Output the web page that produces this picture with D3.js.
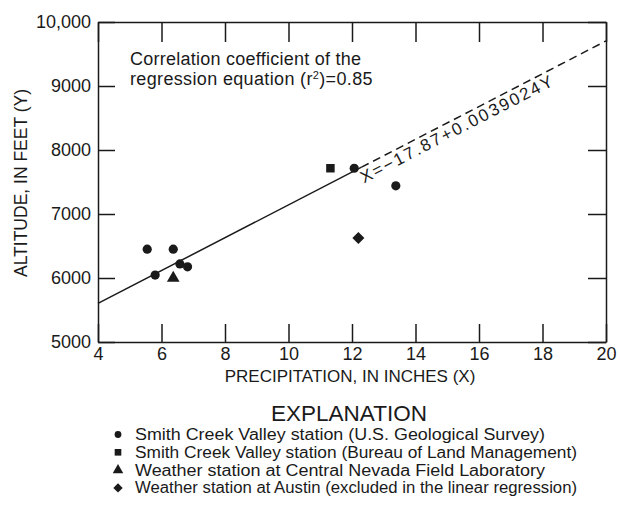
<!DOCTYPE html>
<html><head><meta charset="utf-8">
<script src="https://cdn.jsdelivr.net/npm/d3@7"></script>
<style>
body{margin:0;background:#fff;}
svg{display:block;font-family:"Liberation Sans",Arial,Helvetica,sans-serif;}
</style></head>
<body><svg id="c" width="620" height="527"></svg>
<script>
// ---- data ----
const usgsX = [5.55, 5.8, 6.37, 6.58, 6.82, 12.07, 13.38];
const usgsY = [6450, 6045, 6450, 6220, 6175, 7715, 7440];
const blmX = [11.32];
const blmY = [7715];
const cnflX = [6.37];
const cnflY = [6000];
const austinX = [12.2];
const austinY = [6625];
const regIntercept = -17.87;   // X = a + bY
const regSlope = 0.0039024;
const xTicks = [4, 6, 8, 10, 12, 14, 16, 18, 20];
const yTicks = [5000, 6000, 7000, 8000, 9000, 10000];
const yTickLabels = ["5000", "6000", "7000", "8000", "9000", "10,000"];
const legendLabels = [
  "Smith Creek Valley station (U.S. Geological Survey)",
  "Smith Creek Valley station (Bureau of Land Management)",
  "Weather station at Central Nevada Field Laboratory",
  "Weather station at Austin (excluded in the linear regression)"
];

const svg = d3.select("#c");
const L = 98, R = 606, T = 22, B = 342;
const x = d3.scaleLinear().domain([4, 20]).range([L, R]);
const y = d3.scaleLinear().domain([5000, 10000]).range([B, T]);
const ink = "#1a1a1a";

// axes
const gx = svg.append("g").attr("transform", `translate(0,${B})`)
  .call(d3.axisBottom(x).tickValues(xTicks).tickSize(-18).tickSizeOuter(0).tickPadding(5));
const gy = svg.append("g").attr("transform", `translate(${L},0)`)
  .call(d3.axisLeft(y).tickValues(yTicks).tickSize(-17).tickSizeOuter(0).tickPadding(7)
    .tickFormat((d, i) => yTickLabels[i]));
const gt = svg.append("g").attr("transform", `translate(0,${T})`)
  .call(d3.axisTop(x).tickValues(xTicks).tickSize(-20).tickSizeOuter(0).tickFormat(""));
const gr = svg.append("g").attr("transform", `translate(${R},0)`)
  .call(d3.axisRight(y).tickValues(yTicks).tickSize(-18).tickSizeOuter(0).tickFormat(""));
[gx, gy, gt, gr].forEach(g => {
  g.selectAll("path,line").attr("stroke", ink).attr("stroke-width", 1.5);
  g.selectAll("text").attr("fill", ink).style("font-size", "18px")
   .style("font-family", '"Liberation Sans",Arial,sans-serif');
});

// regression line
const regY = X => (X - regIntercept) / regSlope;
const splitX = 12.3;
svg.append("line").attr("x1", x(4)).attr("y1", y(regY(4)))
  .attr("x2", x(splitX)).attr("y2", y(regY(splitX)))
  .attr("stroke", ink).attr("stroke-width", 1.5);
svg.append("line").attr("x1", x(splitX)).attr("y1", y(regY(splitX)))
  .attr("x2", x(20)).attr("y2", y(regY(20)))
  .attr("stroke", ink).attr("stroke-width", 1.5).attr("stroke-dasharray", "8,5");

// equation label along line
const ang = Math.atan2(y(regY(20)) - y(regY(4)), x(20) - x(4)) * 180 / Math.PI;
const ax = 12.15;
svg.append("text")
  .attr("transform", `translate(${x(ax)},${y(regY(ax))}) rotate(${ang})`)
  .attr("y", 15.5).attr("fill", ink).style("font-size", "17px")
  .attr("textLength", 214).attr("lengthAdjust", "spacing")
  .text("X=−17.87+0.0039024Y");

// annotation
svg.append("text").attr("x", 130).attr("y", 65).attr("fill", ink)
  .style("font-size", "18px").style("letter-spacing", "0.25px")
  .text("Correlation coefficient of the");
const l2 = svg.append("text").attr("x", 130).attr("y", 85).attr("fill", ink)
  .style("font-size", "18px").style("letter-spacing", "0.35px");
l2.append("tspan").text("regression equation (r");
l2.append("tspan").attr("dy", -6).style("font-size", "11px").text("2");
l2.append("tspan").attr("dy", 6).text(")=0.85");

// markers
const sym = (type, size) => d3.symbol().type(type).size(size)();
const plot = svg.append("g").attr("fill", ink);
plot.selectAll(".usgs").data(usgsX.map((v, i) => [v, usgsY[i]])).join("circle")
  .attr("cx", d => x(d[0])).attr("cy", d => y(d[1])).attr("r", 4.6);
plot.selectAll(".blm").data(blmX.map((v, i) => [v, blmY[i]])).join("path")
  .attr("d", sym(d3.symbolSquare, 72)).attr("transform", d => `translate(${x(d[0])},${y(d[1])})`);
plot.selectAll(".cnfl").data(cnflX.map((v, i) => [v, cnflY[i]])).join("path")
  .attr("d", sym(d3.symbolTriangle, 70)).attr("transform", d => `translate(${x(d[0])},${y(d[1])})`);
plot.selectAll(".austin").data(austinX.map((v, i) => [v, austinY[i]])).join("path")
  .attr("d", sym(d3.symbolSquare, 72)).attr("transform", d => `translate(${x(d[0])},${y(d[1])}) rotate(45)`);

// axis titles
svg.append("text").attr("x", 350).attr("y", 382).attr("text-anchor", "middle")
  .attr("fill", ink).style("font-size", "17px").text("PRECIPITATION, IN INCHES (X)");
svg.append("text").attr("transform", "translate(27,183) rotate(-90)").attr("text-anchor", "middle")
  .attr("fill", ink).style("font-size", "17.5px").text("ALTITUDE, IN FEET (Y)");

// legend
svg.append("text").attr("x", 349).attr("y", 421).attr("text-anchor", "middle")
  .attr("fill", ink).style("font-size", "22.5px").text("EXPLANATION");
const lg = svg.append("g");
const shapes = [
  {t: d3.symbolCircle, s: 36, r: 0},
  {t: d3.symbolSquare, s: 44, r: 0},
  {t: d3.symbolTriangle, s: 48, r: 0},
  {t: d3.symbolSquare, s: 44, r: 45}
];
const legendWidths = [410, 442, 410, 442];
legendLabels.forEach((lab, i) => {
  const by = 440 + i * 17.8;
  lg.append("path").attr("d", sym(shapes[i].t, shapes[i].s)).attr("fill", ink)
    .attr("transform", `translate(118,${by - 5.5}) rotate(${shapes[i].r})`);
  lg.append("text").attr("x", 135).attr("y", by).attr("fill", ink)
    .style("font-size", "16px")
    .attr("textLength", legendWidths[i]).attr("lengthAdjust", "spacingAndGlyphs")
    .text(lab);
});
</script></body></html>
